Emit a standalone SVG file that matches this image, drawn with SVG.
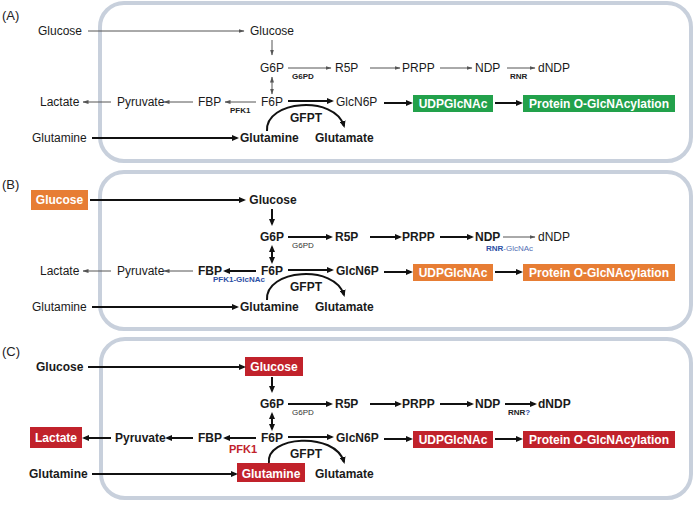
<svg xmlns="http://www.w3.org/2000/svg" width="696" height="506" viewBox="0 0 696 506">
<style>
text{font-family:"Liberation Sans",Arial,sans-serif;font-size:12px;fill:#1a1a1a}
.b{font-weight:bold}
.m{text-anchor:middle}
.s{font-size:8px;font-weight:bold;fill:#222}
.w{fill:#fff;font-weight:bold;text-anchor:middle}
.lab{font-size:13px;fill:#222}
.panel{fill:#fff;stroke:#c8d0dc;stroke-width:4}
.thin{stroke:#555;stroke-width:1;fill:none;marker-end:url(#ah)}
.bold{stroke:#111;stroke-width:2;fill:none;marker-end:url(#ahb)}
.dbl{marker-start:url(#ah2)}
.dblb{marker-start:url(#ahb2)}
.green{fill:#22a14b}
.orange{fill:#e77d34}
.red{fill:#c1222b}
</style>
<defs>
<marker id="ah" viewBox="0 0 6 4" refX="5.5" refY="2" markerWidth="6" markerHeight="4" markerUnits="userSpaceOnUse" orient="auto"><path d="M0,0 L6,2 L0,4 z" fill="#555"/></marker>
<marker id="ah2" viewBox="0 0 6 4" refX="5.5" refY="2" markerWidth="6" markerHeight="4" markerUnits="userSpaceOnUse" orient="auto-start-reverse"><path d="M0,0 L6,2 L0,4 z" fill="#555"/></marker>
<marker id="ahb" viewBox="0 0 7 6" refX="5" refY="3" markerWidth="7" markerHeight="6" markerUnits="userSpaceOnUse" orient="auto"><path d="M0,0 L7,3 L0,6 z" fill="#111"/></marker>
<marker id="ahb2" viewBox="0 0 7 6" refX="5" refY="3" markerWidth="7" markerHeight="6" markerUnits="userSpaceOnUse" orient="auto-start-reverse"><path d="M0,0 L7,3 L0,6 z" fill="#111"/></marker>
</defs>

<!-- Panel A -->
<g id="panelA">
<rect class="panel" x="100" y="3" width="591" height="158" rx="24"/>
<text class="lab" x="2" y="20">(A)</text>
<g id="a-glucose-ext"><text x="38" y="35">Glucose</text></g>
<g id="a-glucose"><text class="m" x="272" y="35">Glucose</text></g>
<g id="a-g6p"><text class="m" x="272" y="72">G6P</text></g>
<g id="a-r5p"><text x="335" y="72">R5P</text></g>
<g id="a-prpp"><text x="402" y="72">PRPP</text></g>
<g id="a-ndp"><text x="475" y="72">NDP</text></g>
<g id="a-dndp"><text x="538" y="72">dNDP</text></g>
<g id="a-lactate"><text x="40" y="106">Lactate</text></g>
<g id="a-pyruvate"><text x="117" y="106">Pyruvate</text></g>
<g id="a-fbp"><text x="198" y="106">FBP</text></g>
<g id="a-f6p"><text class="m" x="272" y="106">F6P</text></g>
<g id="a-glcn6p"><text x="336" y="106">GlcN6P</text></g>
<g id="a-udp"><rect class="green" x="413" y="95" width="80" height="17"/><text class="w" x="453" y="107.5">UDPGlcNAc</text></g>
<g id="a-protein"><rect class="green" x="523" y="95" width="152" height="17"/><text class="w" x="599" y="107.5">Protein O-GlcNAcylation</text></g>
<g id="a-glutamine-ext"><text x="32" y="142">Glutamine</text></g>
<g id="a-glutamine"><text class="b" x="240" y="142">Glutamine</text></g>
<g id="a-glutamate"><text class="b" x="315" y="142">Glutamate</text></g>
<g id="a-labels">
<text class="s" x="292" y="79">G6PD</text>
<text class="s" x="510" y="79">RNR</text>
<text class="s" x="230" y="113">PFK1</text>
<text class="b" x="290" y="122">GFPT</text>
</g>
<g id="a-connectors">
<path class="thin" d="M88,31 H244"/>
<path class="thin" d="M272,40 V55"/>
<path class="thin dbl" d="M272,77 V94"/>
<path class="thin" d="M288,68 H331"/>
<path class="thin" d="M370,68 H400"/>
<path class="thin" d="M440,68 H472"/>
<path class="thin" d="M507,68 H535"/>
<path class="thin" d="M256,102 H225"/>
<path class="thin" d="M193,102 H164"/>
<path class="thin" d="M111,102 H83"/>
<path class="bold" d="M288,101 H332"/>
<path class="bold" d="M384,103 H411"/>
<path class="bold" d="M495,103 H521"/>
<path class="bold" d="M92,138 H237"/>
<path class="bold" d="M267,131 C265,100 335,95 344,126"/>
</g>
</g>

<!-- Panel B -->
<g id="panelB" transform="translate(0,169)">
<rect class="panel" x="100" y="3" width="591" height="157" rx="24"/>
<text class="lab" x="2" y="20">(B)</text>
<g id="b-glucose-ext"><rect class="orange" x="31" y="21" width="57" height="20"/><text class="w" x="59.5" y="35">Glucose</text></g>
<g id="b-glucose"><text class="b m" x="273" y="35">Glucose</text></g>
<g id="b-g6p"><text class="b m" x="272" y="72">G6P</text></g>
<g id="b-r5p"><text class="b" x="335" y="72">R5P</text></g>
<g id="b-prpp"><text class="b" x="402" y="72">PRPP</text></g>
<g id="b-ndp"><text class="b" x="475" y="72">NDP</text></g>
<g id="b-dndp"><text x="538" y="72">dNDP</text></g>
<g id="b-lactate"><text x="40" y="106">Lactate</text></g>
<g id="b-pyruvate"><text x="117" y="106">Pyruvate</text></g>
<g id="b-fbp"><text class="b" x="198" y="106">FBP</text></g>
<g id="b-f6p"><text class="b m" x="272" y="106">F6P</text></g>
<g id="b-glcn6p"><text class="b" x="336" y="106">GlcN6P</text></g>
<g id="b-udp"><rect class="orange" x="413" y="95" width="80" height="17"/><text class="w" x="453" y="107.5">UDPGlcNAc</text></g>
<g id="b-protein"><rect class="orange" x="523" y="95" width="152" height="17"/><text class="w" x="599" y="107.5">Protein O-GlcNAcylation</text></g>
<g id="b-glutamine-ext"><text x="32" y="142">Glutamine</text></g>
<g id="b-glutamine"><text class="b" x="240" y="142">Glutamine</text></g>
<g id="b-glutamate"><text class="b" x="315" y="142">Glutamate</text></g>
<g id="b-labels">
<text class="s" x="292" y="79" style="font-weight:normal;fill:#333">G6PD</text>
<text class="s" x="486" y="82" style="fill:#2c4fa5">RNR<tspan style="font-weight:normal;fill:#5470b5">-GlcNAc</tspan></text>
<text class="s" x="213" y="113" style="fill:#2c4fa5">PFK1-GlcNAc</text>
<text class="b" x="290" y="122">GFPT</text>
</g>
<g id="b-connectors">
<path class="bold" d="M90,31 H244"/>
<path class="bold" d="M272,40 V55"/>
<path class="bold dblb" d="M272,78 V93"/>
<path class="bold" d="M288,68 H331"/>
<path class="bold" d="M370,68 H400"/>
<path class="bold" d="M440,68 H472"/>
<path class="thin" d="M503,68 H535"/>
<path class="bold" d="M256,102 H225"/>
<path class="thin" d="M193,102 H164"/>
<path class="thin" d="M111,102 H83"/>
<path class="bold" d="M288,101 H332"/>
<path class="bold" d="M384,103 H411"/>
<path class="bold" d="M495,103 H521"/>
<path class="bold" d="M92,138 H237"/>
<path class="bold" d="M267,131 C265,100 335,95 344,126"/>
</g>
</g>

<!-- Panel C -->
<g id="panelC" transform="translate(0,336)">
<rect class="panel" x="101" y="3" width="590" height="159" rx="24"/>
<text class="lab" x="2" y="20">(C)</text>
<g id="c-glucose-ext"><text class="b" x="36" y="35">Glucose</text></g>
<g id="c-glucose"><rect class="red" x="245" y="21" width="58" height="19"/><text class="w" x="274" y="35">Glucose</text></g>
<g id="c-g6p"><text class="b m" x="272" y="72">G6P</text></g>
<g id="c-r5p"><text class="b" x="335" y="72">R5P</text></g>
<g id="c-prpp"><text class="b" x="402" y="72">PRPP</text></g>
<g id="c-ndp"><text class="b" x="475" y="72">NDP</text></g>
<g id="c-dndp"><text class="b" x="538" y="72">dNDP</text></g>
<g id="c-lactate"><rect class="red" x="30" y="91" width="52" height="21"/><text class="w" x="56" y="106">Lactate</text></g>
<g id="c-pyruvate"><text class="b" x="115" y="106">Pyruvate</text></g>
<g id="c-fbp"><text class="b" x="198" y="106">FBP</text></g>
<g id="c-f6p"><text class="b m" x="272" y="106">F6P</text></g>
<g id="c-glcn6p"><text class="b" x="336" y="106">GlcN6P</text></g>
<g id="c-udp"><rect class="red" x="413" y="95" width="80" height="17"/><text class="w" x="453" y="107.5">UDPGlcNAc</text></g>
<g id="c-protein"><rect class="red" x="523" y="95" width="152" height="17"/><text class="w" x="599" y="107.5">Protein O-GlcNAcylation</text></g>
<g id="c-glutamine-ext"><text class="b" x="29" y="142">Glutamine</text></g>
<g id="c-glutamine"><rect class="red" x="237" y="127" width="68" height="19"/><text class="w" x="271" y="142">Glutamine</text></g>
<g id="c-glutamate"><text class="b" x="315" y="142">Glutamate</text></g>
<g id="c-labels">
<text class="s" x="292" y="79" style="font-weight:normal;fill:#333">G6PD</text>
<text class="s" x="508" y="79">RNR<tspan style="fill:#2c4fa5">?</tspan></text>
<text class="b" x="229" y="117" style="font-size:11px;fill:#c1222b">PFK1</text>
<text class="b" x="290" y="122">GFPT</text>
</g>
<g id="c-connectors">
<path class="bold" d="M88,31 H244"/>
<path class="bold" d="M272,41 V55"/>
<path class="bold dblb" d="M272,78 V93"/>
<path class="bold" d="M288,68 H331"/>
<path class="bold" d="M370,68 H400"/>
<path class="bold" d="M440,68 H472"/>
<path class="bold" d="M505,68 H535"/>
<path class="bold" d="M256,102 H225"/>
<path class="bold" d="M193,102 H167"/>
<path class="bold" d="M111,102 H84"/>
<path class="bold" d="M288,101 H332"/>
<path class="bold" d="M384,103 H411"/>
<path class="bold" d="M495,103 H521"/>
<path class="bold" d="M92,138 H236"/>
<path class="bold" d="M269,127 C265,100 335,95 344,126"/>
</g>
</g>
</svg>
